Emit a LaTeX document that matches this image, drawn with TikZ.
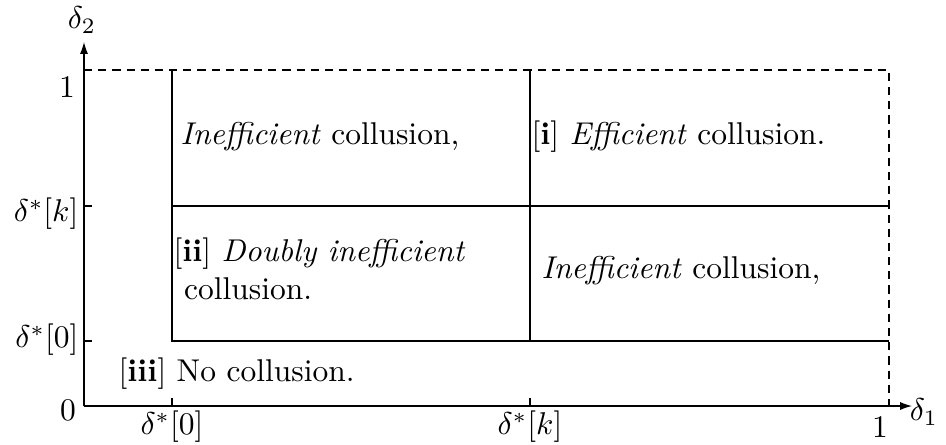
\documentclass[tikz,border=0pt]{standalone}
\usetikzlibrary{arrows.meta}
\begin{document}
\begin{tikzpicture}[x=0.3175pt,y=-0.3175pt,
  axis/.style={line width=0.4pt,-{Latex[length=3.8pt,width=2.6pt]}},
  bord/.style={line width=0.4pt},
  dashline/.style={line width=0.4pt,dash pattern=on 2.6pt off 1.9pt},
  lbl/.style={inner sep=0pt},
  txt/.style={inner sep=0pt,anchor=west,align=left}]
\useasboundingbox (0,0) rectangle (946,444);
% coordinates
\coordinate (O) at (84,406);
\coordinate (xe) at (912,406);
\coordinate (ye) at (84,42);
\coordinate (TL) at (84,70);
\coordinate (TR) at (889,70);
\coordinate (BR) at (889,406);
\coordinate (a1) at (172,70); \coordinate (a2) at (172,341);
\coordinate (b1) at (530,70); \coordinate (b2) at (530,341);
\coordinate (h1) at (172,206); \coordinate (h1e) at (889,206);
\coordinate (h2e) at (889,341);
\coordinate (tx0) at (172,398); \coordinate (tx0b) at (172,406);
\coordinate (txk) at (530,398); \coordinate (txkb) at (530,406);
\coordinate (tyk) at (84,206); \coordinate (tyke) at (92,206);
\coordinate (ty0) at (84,341); \coordinate (ty0e) at (92,341);
% axes
\draw[axis] (O) -- (xe);
\draw[axis] (O) -- (ye);
% dashed frame
\draw[dashline] (TL) -- (TR) -- (BR);
% solid region borders
\draw[bord] (a1) -- (a2) -- (h2e);
\draw[bord] (b1) -- (b2);
\draw[bord] (h1) -- (h1e);
% ticks
\draw[bord] (tx0) -- (tx0b);
\draw[bord] (txk) -- (txkb);
\draw[bord] (tyk) -- (tyke);
\draw[bord] (ty0) -- (ty0e);
% axis labels
\node[lbl] (d2) at (82,20) {$\delta_2$};
\node[lbl] (d1) at (924,412) {$\delta_1$};
\node[lbl] (y1) at (67,87) {$1$};
\node[lbl,anchor=east] (yk) at (79,214) {$\delta^*[k]$};
\node[lbl,anchor=east] (y0) at (79,340) {$\delta^*[0]$};
\node[lbl] (y00) at (68,410) {$0$};
\node[lbl] (x0) at (172,427) {$\delta^*[0]$};
\node[lbl] (xk) at (530,427) {$\delta^*[k]$};
\node[lbl] (x1) at (880,427) {$1$};
% region texts
\node[txt] (r1) at (180,137) {\textit{Inefficient} collusion,};
\node[txt] (r2) at (531,137) {[\textbf{i}] \textit{Efficient} collusion.};
\node[txt] (r3) at (173,269) {[\textbf{ii}] \textit{Doubly inefficient}\\\ collusion.};
\node[txt] (r4) at (541,271) {\textit{Inefficient} collusion,};
\node[txt] (r5) at (118,374) {[\textbf{iii}] No collusion.};
\end{tikzpicture}
\end{document}
